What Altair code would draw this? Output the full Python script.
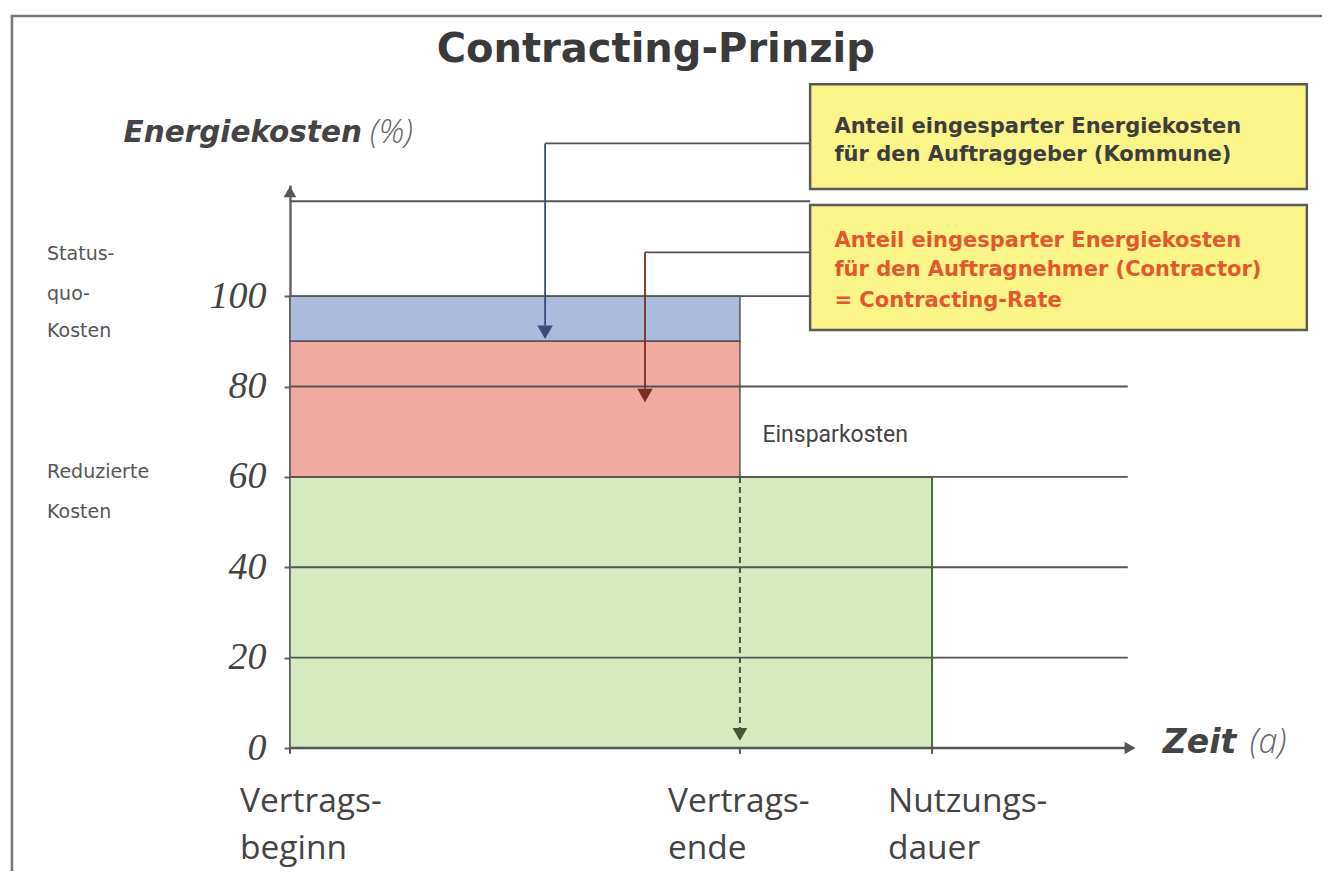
import altair as alt
import pandas as pd

# ---------------- data ----------------
event_values = [0, 10, 14.27]          # Vertragsbeginn, Vertragsende, Nutzungsdauer
event_lines = [["Vertrags-", "beginn"], ["Vertrags-", "ende"], ["Nutzungs-", "dauer"]]

seg_names = ["Auftraggeber (Kommune)", "Contractor (Contracting-Rate)", "Reduzierte Kosten"]
seg_x_end = [10, 10, 14.27]
seg_y_low = [90, 60, 0]
seg_y_high = [100, 90, 60]
seg_colors = ["#abbbdc", "#f1aaa0", "#d5ebbf"]

y_ticks = [0, 20, 40, 60, 80, 100]
grid_values = [20, 40, 60, 80]
upper_lines = [100, 121]

box1_lines = ["Anteil eingesparter Energiekosten", "für den Auftraggeber (Kommune)"]
box2_lines = ["Anteil eingesparter Energiekosten", "für den Auftragnehmer (Contractor)", "= Contracting-Rate"]

X_MAX = 22.67
Y_MAX = 124.6
AXIS_END = 18.67
BOX_X0, BOX_X1 = 11.56, 22.6

# ---------------- scales ----------------
xs = alt.Scale(domain=[0, X_MAX], nice=False, zero=False)
ys = alt.Scale(domain=[0, Y_MAX], nice=False, zero=False)

FONT = "Open Sans"
GREY = "#444444"
LINE = "#555555"


def XD(v):
    return alt.XDatum(v, scale=xs, axis=None)


def YD(v):
    return alt.YDatum(v, scale=ys)


def XF(f):
    return alt.X(f, scale=xs, axis=None)


def YF(f):
    return alt.Y(f, scale=ys)


one = pd.DataFrame({"a": [0]})

segs = pd.DataFrame({"name": seg_names, "x0": [0, 0, 0], "x1": seg_x_end,
                     "y0": seg_y_low, "y1": seg_y_high, "color": seg_colors})

rects = alt.Chart(segs).mark_rect(stroke=LINE, strokeWidth=1.5).encode(
    x=XF("x0:Q"), x2="x1:Q",
    y=alt.Y("y0:Q", scale=ys,
            axis=alt.Axis(values=y_ticks, grid=False, domain=True, domainColor="#666666",
                          domainWidth=2.5, tickColor="#666666", tickSize=6, tickWidth=2,
                          labelFont="Liberation Serif", labelFontStyle="italic",
                          labelFontSize=38, labelColor=GREY, labelPadding=18, title=None)),
    y2="y1:Q",
    color=alt.Color("color:N", scale=None),
    tooltip=["name:N"])

# frame around the picture
frame = alt.Chart(pd.DataFrame({"x0": [-6.18], "x1": [23.3], "y0": [-27.6], "y1": [162.0]})).mark_rect(
    fill=None, stroke="#777777", strokeWidth=2.5).encode(
    x=XF("x0:Q"), x2="x1:Q", y=YF("y0:Q"), y2="y1:Q")

# horizontal lines
grid = alt.Chart(pd.DataFrame({"y": grid_values})).mark_rule(color=LINE, strokeWidth=1.8).encode(
    x=XD(0), x2=alt.datum(AXIS_END - 0.05), y=YF("y:Q"))
upper = alt.Chart(pd.DataFrame({"y": upper_lines})).mark_rule(color=LINE, strokeWidth=1.8).encode(
    x=XD(0), x2=alt.datum(BOX_X0), y=YF("y:Q"))

# x axis line + arrows + small ticks at the events
xaxis = alt.Chart(one).mark_rule(color=LINE, strokeWidth=2.5).encode(
    x=XD(0), x2=alt.datum(AXIS_END), y=YD(0))
xticks = alt.Chart(pd.DataFrame({"x": event_values})).mark_rule(color=LINE, strokeWidth=2).encode(
    x=XF("x:Q"), y=YD(0), y2=alt.datum(-1.3))
xarrow = alt.Chart(one).mark_point(shape="triangle-right", filled=True, color=LINE, size=160,
                                   opacity=1).encode(x=XD(AXIS_END), y=YD(0))
yarrow = alt.Chart(one).mark_point(shape="triangle-up", filled=True, color=LINE, size=160,
                                   opacity=1).encode(x=XD(0), y=YD(Y_MAX - 1.5))

# dashed line at contract end with arrow
dashed = alt.Chart(one).mark_rule(color="#3f5a36", strokeWidth=2, strokeDash=[6, 4]).encode(
    x=XD(event_values[1]), y=YD(60), y2=alt.datum(3))
dash_arrow = alt.Chart(one).mark_point(shape="triangle-down", filled=True, color="#3f5a36",
                                       size=220, opacity=1).encode(x=XD(event_values[1]), y=YD(3))

# green right edge (Nutzungsdauer)
green_edge = alt.Chart(one).mark_rule(color="#4a6a3c", strokeWidth=2).encode(
    x=XD(event_values[2]), y=YD(0), y2=alt.datum(60))

# callout connectors
c_blue_x, c_blue_y, c_blue_tip = 5.67, 133.8, 92.0
c_red_x, c_red_y, c_red_tip = 7.89, 109.7, 78.0
callout_h = alt.Chart(pd.DataFrame({"x0": [c_blue_x, c_red_x], "y": [c_blue_y, c_red_y]})).mark_rule(
    color=LINE, strokeWidth=1.8).encode(x=XF("x0:Q"), x2=alt.datum(BOX_X0), y=YF("y:Q"))
callout_v = alt.Chart(pd.DataFrame({"x": [c_blue_x, c_red_x], "y0": [c_blue_y, c_red_y],
                                    "y1": [c_blue_tip + 1.5, c_red_tip + 1.5],
                                    "c": ["#3a4a78", "#7a2e22"]})).mark_rule(strokeWidth=1.8).encode(
    x=XF("x:Q"), y=YF("y0:Q"), y2="y1:Q", color=alt.Color("c:N", scale=None))
callout_tips = alt.Chart(pd.DataFrame({"x": [c_blue_x, c_red_x], "y": [c_blue_tip, c_red_tip],
                                       "c": ["#3a4a78", "#7a2e22"]})).mark_point(
    shape="triangle-down", filled=True, size=240, opacity=1).encode(
    x=XF("x:Q"), y=YF("y:Q"), color=alt.Color("c:N", scale=None))

# yellow boxes
boxes = alt.Chart(pd.DataFrame({"x0": [BOX_X0, BOX_X0], "x1": [BOX_X1, BOX_X1],
                                "y0": [123.7, 92.5], "y1": [146.9, 120.2]})).mark_rect(
    fill="#fbf488", stroke="#5a5a5a", strokeWidth=2.5).encode(
    x=XF("x0:Q"), x2="x1:Q", y=YF("y0:Q"), y2="y1:Q")

box1_text = alt.Chart(pd.DataFrame({"t": box1_lines, "y": [137.5, 131.2]})).mark_text(
    align="left", baseline="middle", font="DejaVu Sans", fontWeight="bold", fontSize=21,
    color="#3d3d3d").encode(x=XD(12.1), y=YF("y:Q"), text="t:N")
box2_text = alt.Chart(pd.DataFrame({"t": box2_lines, "y": [112.3, 105.8, 99.0]})).mark_text(
    align="left", baseline="middle", font="DejaVu Sans", fontWeight="bold", fontSize=21,
    color="#e4572e").encode(x=XD(12.1), y=YF("y:Q"), text="t:N")

# chart title
title = alt.Chart(pd.DataFrame({"t": ["Contracting-Prinzip"]})).mark_text(
    align="center", baseline="middle", font="DejaVu Sans", fontWeight="bold", fontSize=40,
    color="#3a3a3a").encode(x=XD(8.13), y=YD(154.4), text="t:N")

# y-axis title
ytitle1 = alt.Chart(pd.DataFrame({"t": ["Energiekosten"]})).mark_text(
    align="left", baseline="middle", font="DejaVu Sans", fontStyle="italic", fontWeight="bold",
    fontSize=29.5, color=GREY).encode(x=XD(-3.7), y=YD(136.0), text="t:N")
ytitle2 = alt.Chart(pd.DataFrame({"t": ["(%)"]})).mark_text(
    align="left", baseline="middle", font=FONT, fontStyle="italic", fontWeight=300, fontSize=33,
    color="#666666").encode(x=XD(1.78), y=YD(136.0), text="t:N")

# side labels
side = alt.Chart(pd.DataFrame({"t": ["Status-", "quo-", "Kosten", "Reduzierte", "Kosten"],
                               "y": [109.4, 100.5, 92.3, 61.0, 52.2]})).mark_text(
    align="left", baseline="middle", font="DejaVu Sans", fontSize=19, color="#555555").encode(
    x=XD(-5.4), y=YF("y:Q"), text="t:N")

# Einsparkosten
einspar = alt.Chart(pd.DataFrame({"t": ["Einsparkosten"]})).mark_text(
    align="left", baseline="middle", font="Roboto", fontSize=23, color=GREY).encode(
    x=XD(10.5), y=YD(69.2), text="t:N")

# Zeit (a)
zeit1 = alt.Chart(pd.DataFrame({"t": ["Zeit"]})).mark_text(
    align="left", baseline="middle", font="DejaVu Sans", fontStyle="italic", fontWeight="bold",
    fontSize=33, color=GREY).encode(x=XD(19.4), y=YD(1.1), text="t:N")
zeit2 = alt.Chart(pd.DataFrame({"t": ["(a)"]})).mark_text(
    align="left", baseline="middle", font=FONT, fontStyle="italic", fontWeight=300, fontSize=34,
    color="#666666").encode(x=XD(21.33), y=YD(1.1), text="t:N")

# event labels on the time axis
ev_dx = [-1.11, -1.6, -0.98]
ev_layers = []
for v, lines, d in zip(event_values, event_lines, ev_dx):
    ev_layers.append(alt.Chart(pd.DataFrame({"t": lines, "y": [-11.9, -22.3]})).mark_text(
        align="left", baseline="middle", font=FONT, fontSize=33.5, color=GREY).encode(
        x=XD(v + d), y=YF("y:Q"), text="t:N"))

chart = alt.layer(
    rects, frame, grid, upper, green_edge, dashed, dash_arrow, xaxis, xticks, xarrow, yarrow,
    callout_h, callout_v, callout_tips, boxes, box1_text, box2_text, title,
    ytitle1, ytitle2, side, einspar, zeit1, zeit2, *ev_layers
).properties(
    width=1020, height=563,
    autosize=alt.AutoSizeParams(type="none"),
    padding={"left": 282, "top": 177, "right": 12, "bottom": 123},
).configure(background="white", view=alt.ViewConfig(stroke=None))

chart.save("out.html", embed_options={"renderer": "svg", "actions": False})
